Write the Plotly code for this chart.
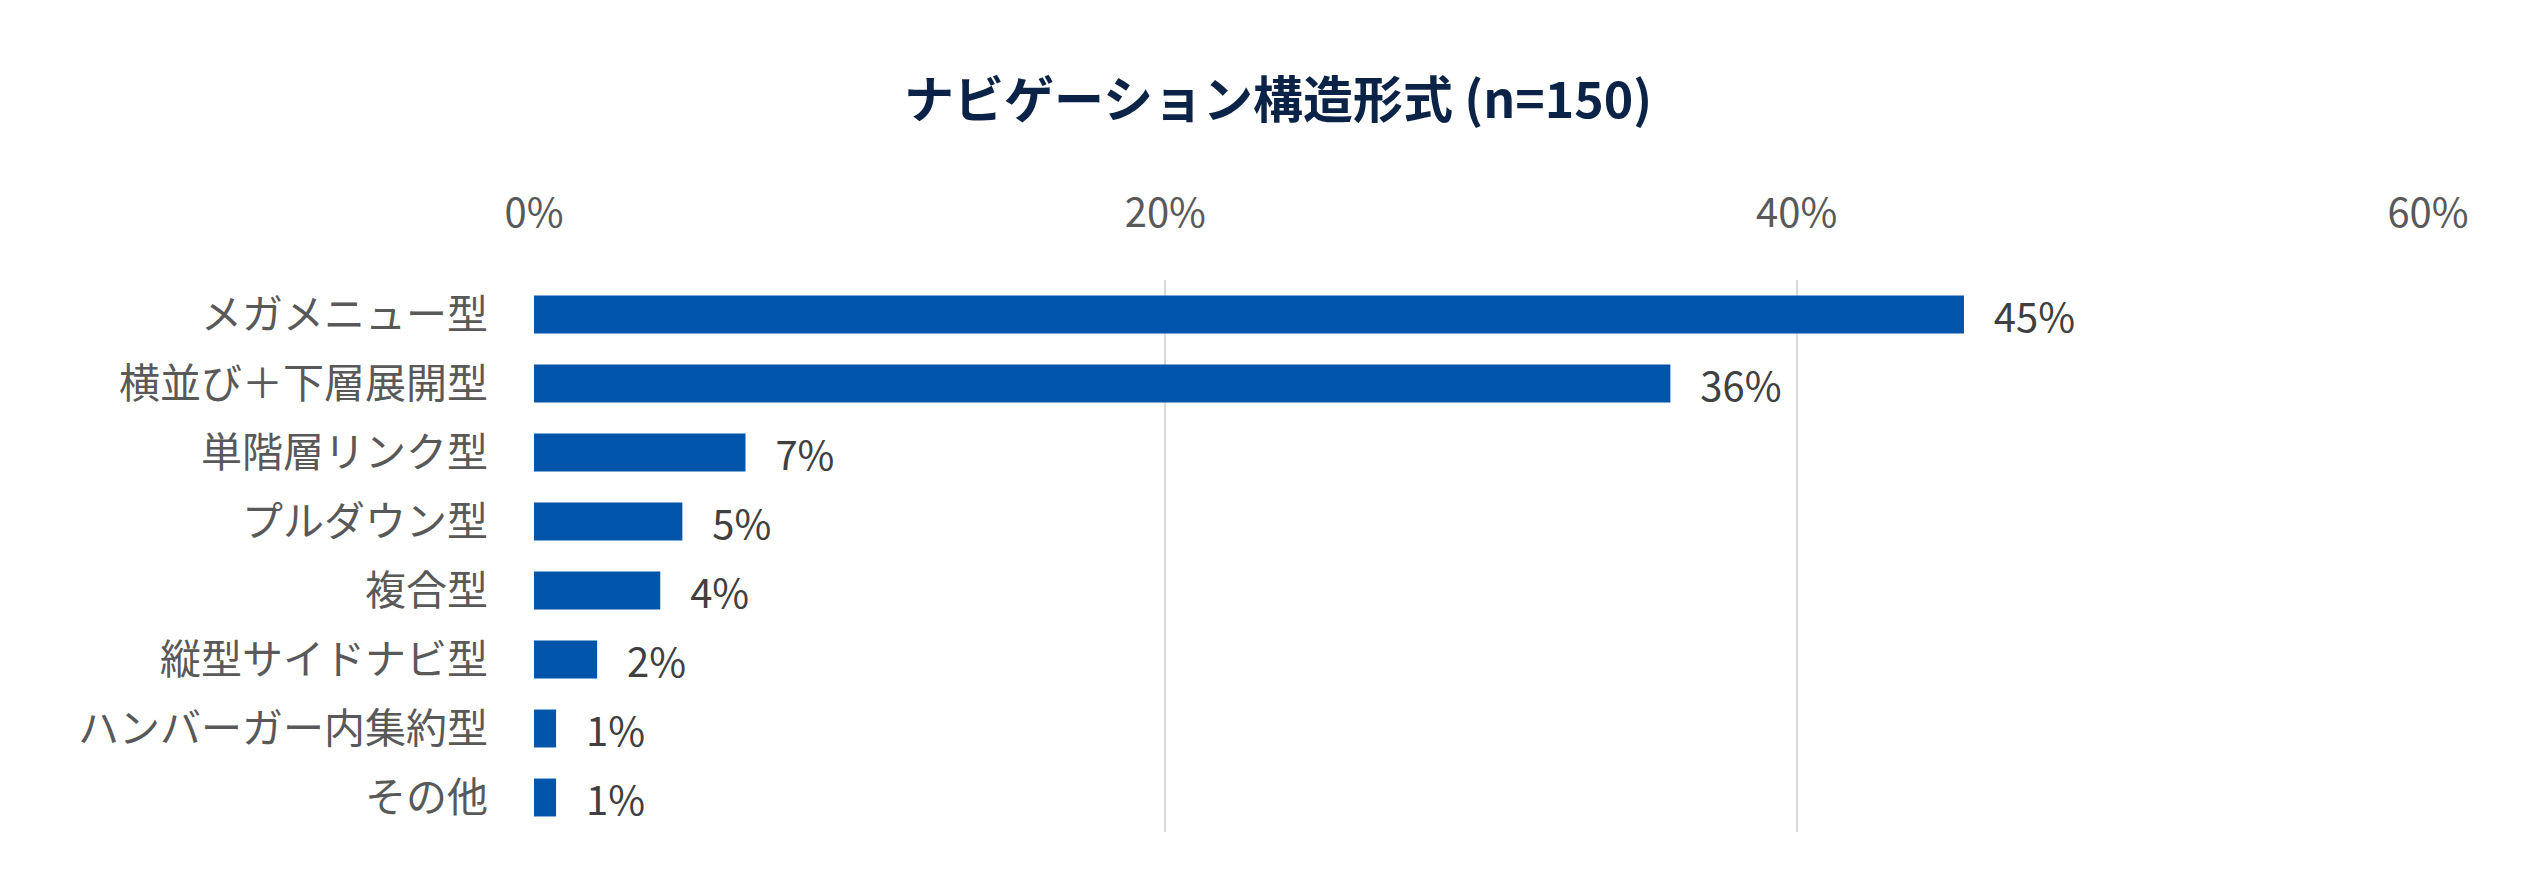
import plotly.graph_objects as go

# カテゴリ (上から順)
categories = ['メガメニュー型', '横並び＋下層展開型', '単階層リンク型', 'プルダウン型',
              '複合型', '縦型サイドナビ型', 'ハンバーガー内集約型', 'その他']
# 割合 (%)
shares = [45.3, 36.0, 6.7, 4.7, 4.0, 2.0, 0.7, 0.7]
tick_vals = [0, 20, 40, 60]
tick_text = ['0%', '20%', '40%', '60%']

font_family = 'Noto Sans CJK JP'

# the page body adds an 8px margin, so the figure is 8px smaller on each side
W, H = 2540, 881

fig = go.Figure(go.Bar(
    x=shares,
    y=categories,
    orientation='h',
    marker=dict(color='#0055AA', line_width=0),
    text=[f'{round(v)}%' for v in shares],
    texttemplate='\u00a0\u00a0\u00a0%{text}',
    textposition='outside',
    constraintext='none',
    textfont=dict(family=font_family, size=40, color='#404040'),
    cliponaxis=False,
))

fig.update_layout(
    width=W, height=H,
    paper_bgcolor='white', plot_bgcolor='white',
    margin=dict(l=526, r=120, t=272, b=57),
    bargap=0.45,
    showlegend=False,
    title=dict(text='<b>ナビゲーション構造形式 (n=150)</b>',
               font=dict(family=font_family, size=50, color='#0B2346'),
               x=0.5, xref='container', xanchor='center',
               y=1 - 92 / H, yref='container', yanchor='middle'),
    font=dict(family=font_family, size=40, color='#595959'),
)
fig.update_xaxes(
    side='top', range=[0, 60], tickvals=tick_vals, ticktext=tick_text,
    showgrid=True, gridcolor='#D9D9D9', gridwidth=2,
    zeroline=False, showline=False, ticks='',
    ticklabelstandoff=44,
    tickfont=dict(family=font_family, size=40, color='#595959'),
)
fig.update_yaxes(
    autorange='reversed', showgrid=False, zeroline=False, showline=False,
    ticks='', ticklabelstandoff=45,
    tickfont=dict(family=font_family, size=41, color='#595959'),
)

fig.write_html('out.html')
